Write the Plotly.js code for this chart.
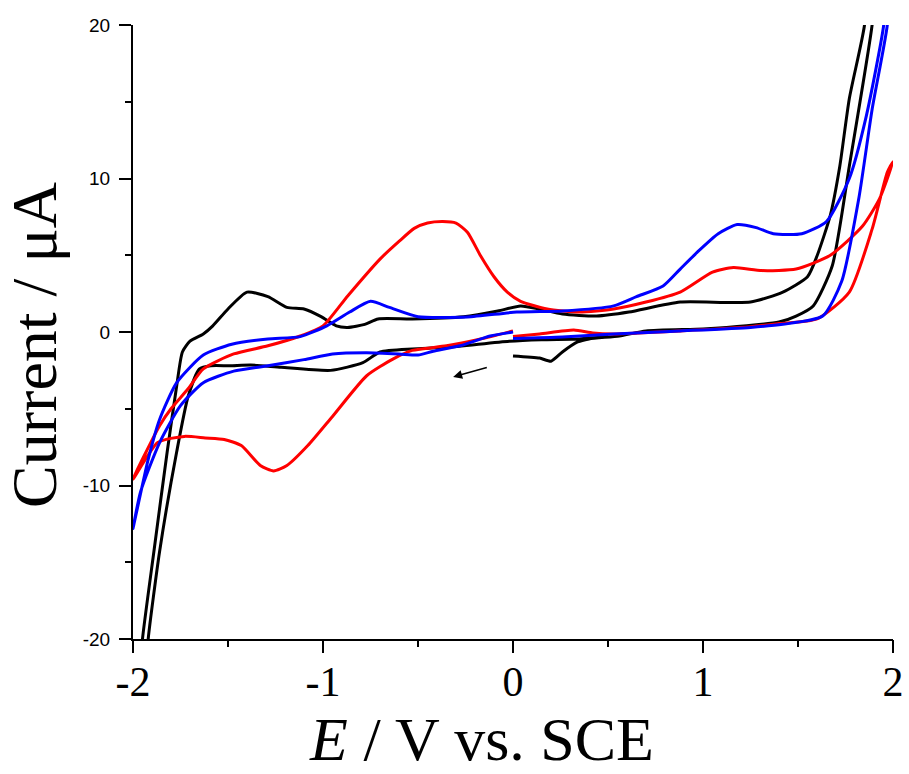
<!DOCTYPE html>
<html>
<head>
<meta charset="utf-8">
<script src="https://cdn.plot.ly/plotly-3.0.1.min.js"></script>
<style>html,body{margin:0;padding:0;background:#fff}#chart{width:909px;height:774px}</style>
</head>
<body>
<div id="chart"></div>
<script>
// Potential (V vs. SCE) and current (µA)
const blackE = [0,0.14,0.2,0.26,0.34,0.4,0.56,0.7,1.0,1.23,1.40,1.49,1.58,1.68,1.77,1.89,1.91,
  1.86,1.85,1.77,1.72,1.67,1.6,1.55,1.42,1.25,0.88,0.61,0.44,0.26,0.14,0.04,-0.08,-0.26,-0.53,-0.71,-0.78,-0.87,-0.93,-1.01,-1.10,-1.19,-1.29,-1.40,-1.50,-1.58,-1.63,-1.70,-1.74,-1.77,-1.82,-1.89,-1.95,-1.96,
  -1.93,-1.92,-1.86,-1.77,-1.71,-1.65,-1.59,-1.49,-1.38,-1.22,-0.96,-0.79,-0.70,-0.53,-0.35,-0.02,0.15,0.35,0.5];
const blackI = [-1.56,-1.7,-1.9,-1.3,-0.65,-0.45,-0.26,0.07,0.2,0.4,0.65,1.04,1.7,4.3,10.8,20,23,
  23,20,15.2,10.8,7.6,4.95,3.6,2.6,1.95,1.95,1.3,1.04,1.17,1.5,1.7,1.37,1.0,0.85,0.85,0.5,0.3,0.4,1.0,1.5,1.6,2.3,2.6,1.5,0.4,-0.13,-0.6,-1.3,-3.5,-7.8,-14.3,-20,-22,
  -22,-20,-14.3,-7.8,-4.2,-2.4,-2.2,-2.2,-2.15,-2.3,-2.5,-2.0,-1.3,-1.1,-1.0,-0.6,-0.5,-0.45,-0.3];

const blueE = [0,-0.12,-0.28,-0.42,-0.5,-0.6,-0.77,-0.95,-1.1,-1.29,-1.47,-1.63,-1.75,-1.86,-1.96,-2.0,
  -1.92,-1.86,-1.77,-1.63,-1.48,-1.29,-1.12,-0.98,-0.86,-0.75,-0.65,-0.5,-0.24,0.02,0.26,0.53,0.65,0.79,0.88,0.97,1.08,1.18,1.28,1.37,1.52,1.65,1.77,1.86,1.95,1.97,
  1.98,1.97,1.89,1.82,1.73,1.63,1.42,1.25,0.88,0.53,0.26,0];
const blueI = [0,-0.26,-0.9,-1.25,-1.5,-1.43,-1.35,-1.43,-1.8,-2.2,-2.55,-3.3,-4.8,-7.2,-10.4,-12.8,
  -8.3,-5.7,-3.3,-1.5,-0.8,-0.45,-0.3,0.4,1.3,2.0,1.6,1.0,0.98,1.3,1.37,1.7,2.3,3.0,4.1,5.2,6.4,7.0,6.8,6.4,6.4,7.2,10,14.1,19.9,23,
  23,20,14.5,8.7,3.3,1.04,0.5,0.3,0.07,-0.13,-0.33,-0.42];

const redE = [0,-0.17,-0.35,-0.53,-0.63,-0.77,-0.95,-1.08,-1.19,-1.26,-1.33,-1.43,-1.52,-1.62,-1.73,-1.87,-2.0,
  -1.86,-1.80,-1.71,-1.63,-1.47,-1.29,-1.12,-1.0,-0.87,-0.70,-0.60,-0.52,-0.45,-0.37,-0.30,-0.24,-0.17,-0.10,-0.03,0.04,0.18,0.35,0.53,0.70,0.88,1.05,1.16,1.31,1.49,1.67,1.84,1.93,2.0,
  1.97,1.89,1.77,1.6,1.4,1.25,0.88,0.53,0.42,0.32,0.14,0];
const redI = [0.07,-0.45,-0.9,-1.2,-1.75,-2.85,-5.5,-7.4,-8.7,-9.05,-8.7,-7.4,-7.0,-6.9,-6.8,-7.2,-9.6,
  -6.1,-5.0,-3.7,-2.4,-1.43,-0.9,-0.26,0.4,2.35,4.75,5.9,6.75,7.1,7.2,7.1,6.5,4.95,3.6,2.6,2.0,1.5,1.3,1.5,1.95,2.6,3.9,4.2,4.0,4.1,5.0,6.9,8.7,11.1,
  10.4,6.7,2.6,0.85,0.55,0.35,0.07,-0.13,-0.07,0.13,-0.13,-0.3];

const xTicks = [-2,-1,0,1,2];
const yTicks = [-20,-10,0,10,20];
const arrowFrom = [-0.13,-2.28];
const arrowTo = [-0.315,-2.93];

const serif = "Liberation Serif, Times New Roman, serif";
const sans = "Liberation Sans, Arial, sans-serif";

function trace(x, y, color) {
  return {x: x, y: y, type: 'scatter', mode: 'lines',
    line: {color: color, width: 3, shape: 'spline', smoothing: 0.6},
    hoverinfo: 'skip', showlegend: false};
}

const data = [
  trace(blackE, blackI, '#000000'),
  trace(redE, redI, '#ff0000'),
  trace(blueE, blueI, '#0000ff'),
  // empty helper trace so the tick-mark axis (x2) is drawn
  {x: xTicks, y: xTicks.map(() => null), xaxis: 'x2', yaxis: 'y', type: 'scatter', mode: 'lines',
   hoverinfo: 'skip', showlegend: false, line: {color: 'rgba(0,0,0,0)'}}
];

const layout = {
  width: 909, height: 774,
  margin: {l: 133, r: 16, t: 25, b: 135},
  paper_bgcolor: '#ffffff', plot_bgcolor: '#ffffff',
  showlegend: false,
  xaxis: {
    range: [-2, 2], tickvals: xTicks, ticktext: xTicks.map(String),
    showgrid: false, zeroline: false, showline: true, linecolor: '#000', linewidth: 2,
    ticks: 'outside', ticklen: 5, tickwidth: 2, tickcolor: 'rgba(0,0,0,0)',
    tickfont: {family: serif, size: 42, color: '#000'},
    automargin: false
  },
  // second axis on the same scale that only draws the visible tick marks
  xaxis2: {
    overlaying: 'x', anchor: 'y', side: 'bottom',
    range: [-2, 2], tickvals: xTicks, showticklabels: false,
    showgrid: false, zeroline: false, showline: false,
    ticks: 'outside', ticklen: 13, tickwidth: 2, tickcolor: '#000',
    minor: {dtick: 0.5, ticks: 'outside', ticklen: 7, tickwidth: 2, tickcolor: '#000', showgrid: false},
    automargin: false
  },
  yaxis: {
    range: [-20, 20], tickvals: yTicks, ticktext: yTicks.map(String),
    showgrid: false, zeroline: false, showline: true, linecolor: '#000', linewidth: 2,
    ticks: 'outside', ticklen: 12, tickwidth: 2, tickcolor: '#000',
    minor: {dtick: 5, ticks: 'outside', ticklen: 6, tickwidth: 2, tickcolor: '#000', showgrid: false},
    tickfont: {family: sans, size: 19, color: '#000'},
    ticklabelstandoff: 5,
    automargin: false
  },
  annotations: [{
    x: arrowTo[0], y: arrowTo[1], ax: arrowFrom[0], ay: arrowFrom[1],
    xref: 'x', yref: 'y', axref: 'x', ayref: 'y',
    text: '', showarrow: true, arrowhead: 2, arrowsize: 1.2, arrowwidth: 1.5, arrowcolor: '#000'
  }, {
    text: '<i>E</i> / V vs. SCE', xref: 'paper', yref: 'paper', x: 0.459, y: 0,
    xanchor: 'center', yanchor: 'bottom', yshift: -135, showarrow: false, borderpad: 0,
    font: {family: serif, size: 62, color: '#000'}
  }, {
    text: 'Current / μA', xref: 'paper', yref: 'paper', x: 0, y: 0.479,
    xanchor: 'center', yanchor: 'middle', xshift: -98, textangle: -90, showarrow: false,
    font: {family: serif, size: 64, color: '#000'}
  }]
};

Plotly.newPlot('chart', data, layout, {displayModeBar: false, staticPlot: true});
</script>
</body>
</html>
